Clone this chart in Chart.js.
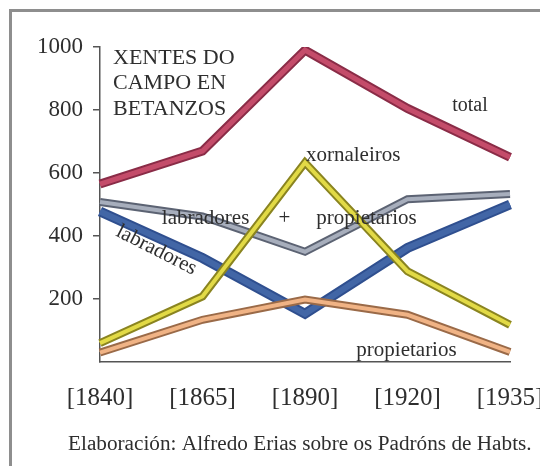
<!DOCTYPE html>
<html>
<head>
<meta charset="utf-8">
<script src="https://cdn.jsdelivr.net/npm/chart.js@4.4.0/dist/chart.umd.min.js"></script>
<style>
  html, body { margin: 0; padding: 0; background: #fff; overflow: hidden; }
  #wrap { position: relative; width: 540px; height: 466px; overflow: hidden; }
  #frame { position: absolute; left: 9px; top: 9px; width: 600px; height: 600px;
           border: 3px solid #8e8e8e; box-sizing: border-box; }
  #chart { position: absolute; left: 0; top: 0; }
</style>
</head>
<body>
<div id="wrap">
  <div id="frame"></div>
  <canvas id="chart" width="540" height="466"></canvas>
</div>
<script>
// data
const years = ['[1840]', '[1865]', '[1890]', '[1920]', '[1935]'];
const total = [565, 670, 990, 805, 650];
const xornaleiros = [60, 208, 633, 288, 118];
const labradores = [478, 330, 153, 362, 500];
const labradoresPropietarios = [508, 462, 350, 517, 533];
const propietarios = [30, 134, 198, 150, 32];
const yTicks = [200, 400, 600, 800, 1000];

const titleLines = ['XENTES DO', 'CAMPO EN', 'BETANZOS'];
const footer = 'Elaboración: Alfredo Erias sobre os Padróns de Habts.';

const serif = '"Liberation Serif", "Times New Roman", serif';
const textColor = '#2e2e2e';

// each series drawn as a ribbon: dark edge underneath, lighter band on top
const series = [
    { data: total, edge: '#8a2c47', band: '#c44c6a', width: 9 },
    { data: xornaleiros, edge: '#8a8420', band: '#e2da46', width: 8 },
    { data: propietarios, edge: '#9a6a48', band: '#f0b385', width: 8 },
    { data: labradoresPropietarios, edge: '#5c6373', band: '#a7aebc', width: 8 },
    { data: labradores, edge: '#2f4f8f', band: '#4266a6', width: 10 }
];

const datasets = [];
series.forEach(function (s, i) {
    datasets.push({
        data: s.data, borderColor: s.edge, borderWidth: s.width,
        pointRadius: 0, borderJoinStyle: 'miter', order: i * 2 + 1
    });
    datasets.push({
        data: s.data, borderColor: s.band, borderWidth: s.width - 4,
        pointRadius: 0, borderJoinStyle: 'miter', order: i * 2
    });
});

// free text labels, placed in data coordinates
const notes = [
    { text: 'total', x: 3.61, y: 815, size: 20 },
    { text: 'xornaleiros', x: 2.47, y: 655, size: 21 },
    { text: 'labradores', x: 1.03, y: 455, size: 21 },
    { text: '+', x: 1.8, y: 455, size: 21 },
    { text: 'propietarios', x: 2.6, y: 455, size: 21 },
    { text: 'propietarios', x: 2.99, y: 38, size: 21 },
    { text: 'labradores', x: 0.55, y: 355, size: 21, angle: 27 }
];

const notesPlugin = {
    id: 'notes',
    afterDatasetsDraw(chart) {
        const ctx = chart.ctx;
        const xs = chart.scales.x, ys = chart.scales.y;
        ctx.save();
        ctx.fillStyle = textColor;
        ctx.textAlign = 'center';
        ctx.textBaseline = 'middle';
        notes.forEach(function (n) {
            ctx.font = n.size + 'px ' + serif;
            const px = xs.getPixelForValue(n.x);
            const py = ys.getPixelForValue(n.y);
            ctx.save();
            ctx.translate(px, py);
            if (n.angle) ctx.rotate(n.angle * Math.PI / 180);
            ctx.fillText(n.text, 0, 0);
            ctx.restore();
        });
        // chart heading top left
        ctx.textAlign = 'left';
        ctx.font = '22px ' + serif;
        titleLines.forEach(function (t, i) {
            ctx.fillText(t, 113, 58 + i * 25.5);
        });
        // source line, a bit wider than the plain font
        ctx.textBaseline = 'alphabetic';
        ctx.font = '20px ' + serif;
        ctx.translate(68, 450);
        ctx.scale(1.062, 1);
        ctx.fillText(footer, 0, 0);
        ctx.restore();
    }
};

new Chart(document.getElementById('chart'), {
    type: 'line',
    data: { labels: years, datasets: datasets },
    options: {
        responsive: false,
        animation: false,
        layout: { padding: { top: 47, right: 30, bottom: 0, left: 0 } },
        plugins: { legend: { display: false }, tooltip: { enabled: false } },
        scales: {
            x: {
                offset: false,
                grid: { display: false },
                border: { display: true, color: '#555', width: 1.5 },
                ticks: { color: textColor, font: { family: serif, size: 25 }, padding: 13, maxRotation: 0, autoSkip: false },
                afterFit(scale) { scale.height = 104; scale.paddingLeft = 0; scale.paddingRight = 0; }
            },
            y: {
                min: 0, max: 1000,
                afterBuildTicks(scale) { scale.ticks = yTicks.map(v => ({ value: v })); },
                grid: { drawOnChartArea: false, drawTicks: true, tickLength: 7, color: '#555', lineWidth: 1.5 },
                border: { display: true, color: '#555', width: 1.5 },
                ticks: { color: textColor, font: { family: serif, size: 23 }, padding: 10, callback: v => String(v) },
                afterFit(scale) { scale.width = 100; scale.paddingTop = 0; }
            }
        }
    },
    plugins: [notesPlugin]
});
</script>
</body>
</html>
